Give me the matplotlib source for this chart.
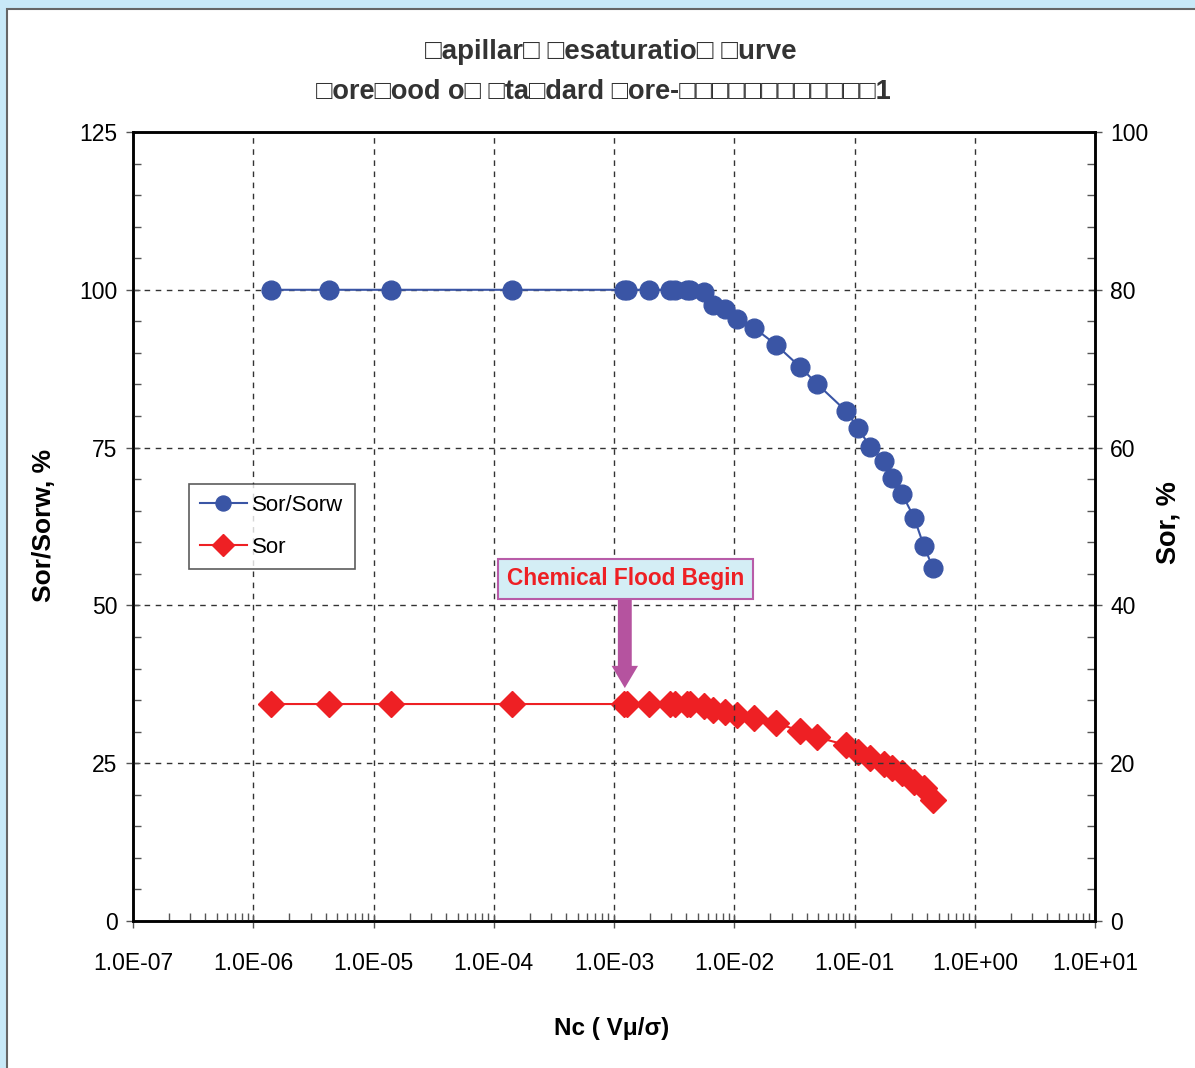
import matplotlib
matplotlib.use("Agg")
import matplotlib.pyplot as plt
from matplotlib.patches import Rectangle
from matplotlib.ticker import LogLocator, MultipleLocator, FixedLocator, NullFormatter

plt.rcParams['font.family'] = ['Liberation Sans', 'DejaVu Sans']

# ---- data ----
nc = [1.4e-6, 4.3e-6, 1.4e-5, 1.42e-4, 1.21e-3, 1.28e-3, 1.95e-3, 2.92e-3,
      3.2e-3, 4.05e-3, 4.3e-3, 5.6e-3, 6.65e-3, 8.4e-3, 1.05e-2, 1.46e-2,
      2.22e-2, 3.52e-2, 4.88e-2, 8.5e-2, 0.107, 0.135, 0.176, 0.205, 0.248,
      0.313, 0.378, 0.45]
sor_sorw = [100, 100, 100, 100, 100, 100, 100, 100, 100, 100, 99.9, 99.6,
            97.6, 97.0, 95.4, 94.0, 91.3, 87.8, 85.1, 80.8, 78.1, 75.1, 72.9,
            70.2, 67.7, 63.9, 59.4, 55.9]
sor = [27.5, 27.5, 27.5, 27.5, 27.5, 27.5, 27.5, 27.5, 27.5, 27.5, 27.5, 27.3,
       26.7, 26.5, 26.1, 25.7, 25.1, 24.1, 23.3, 22.3, 21.4, 20.6, 19.9, 19.4,
       18.7, 17.6, 16.8, 15.3]
x_ticks = [1e-7, 1e-6, 1e-5, 1e-4, 1e-3, 1e-2, 1e-1, 1e0, 1e1]
x_labels = ["1.0E-07", "1.0E-06", "1.0E-05", "1.0E-04", "1.0E-03",
            "1.0E-02", "1.0E-01", "1.0E+00", "1.0E+01"]
title1 = "\u25a1apillar\u25a1 \u25a1esaturatio\u25a1 \u25a1urve"
title2 = "\u25a1ore\u25a1ood o\u25a1 \u25a1ta\u25a1dard \u25a1ore-\u25a1\u25a1\u25a1\u25a1\u25a1\u25a1\u25a1\u25a1\u25a1\u25a1\u25a1\u25a11"

BLUE = '#3a55a5'
RED = '#ee2024'

W, H = 1195, 1068
fig = plt.figure(figsize=(W / 100, H / 100), dpi=100)
fig.patch.set_facecolor('#c8e9f8')
fig.patches.append(Rectangle((7 / W, -0.05), 1.1, 1.05 - 9 / H,
                             transform=fig.transFigure, facecolor='white',
                             edgecolor='#666666', lw=1.5, zorder=-5))

L, R, T, B = 133, 1095, 132, 921
ax = fig.add_axes([L / W, 1 - B / H, (R - L) / W, (B - T) / H])
ax.set_xscale('log')
ax.set_xlim(1e-7, 1e1)
ax.set_ylim(0, 125)

ax.xaxis.set_major_locator(FixedLocator(x_ticks))
ax.set_xticklabels(x_labels)
ax.xaxis.set_minor_locator(LogLocator(base=10, subs=range(2, 10), numticks=20))
ax.xaxis.set_minor_formatter(NullFormatter())
ax.yaxis.set_major_locator(MultipleLocator(25))
ax.yaxis.set_minor_locator(MultipleLocator(5))

ax.tick_params(axis='both', which='major', direction='inout', length=10,
               width=1, colors='#555555', labelcolor='black', labelsize=16.5)
ax.tick_params(axis='both', which='minor', direction='in', length=6,
               width=1, colors='#555555')
ax.tick_params(axis='x', which='major', pad=17)
ax.tick_params(axis='y', which='major', pad=6)
for s in ax.spines.values():
    s.set_linewidth(1.8)
    s.set_color('black')

ax.grid(True, which='major', linestyle=(0, (4, 4)), color='#333333', lw=1)

ax2 = ax.twinx()
ax2.set_ylim(0, 100)
ax2.yaxis.set_major_locator(MultipleLocator(20))
ax2.yaxis.set_minor_locator(MultipleLocator(4))
ax2.tick_params(axis='y', which='major', direction='inout', length=10,
                width=1, colors='#555555', labelcolor='black', labelsize=16.5, pad=6)
ax2.tick_params(axis='y', which='minor', direction='in', length=6,
                width=1, colors='#555555')
for s in ax2.spines.values():
    s.set_linewidth(1.8)

l1, = ax.plot(nc, sor_sorw, color=BLUE, lw=1.5, marker='o', ms=13.5,
              markerfacecolor=BLUE, markeredgecolor=BLUE, label='Sor/Sorw',
              zorder=5)
l2, = ax2.plot(nc, sor, color=RED, lw=1.5, marker='D', ms=13.5,
               markerfacecolor=RED, markeredgecolor=RED, label='Sor', zorder=5)

ax.set_zorder(ax2.get_zorder() + 1)
ax.patch.set_visible(False)
ax2.patch.set_visible(True)
ax2.patch.set_facecolor('white')

leg = ax.legend(handles=[l1, l2], loc='upper left',
                bbox_to_anchor=((189 - L) / (R - L), (B - 484) / (B - T)),
                fontsize=16, frameon=True, fancybox=False, edgecolor='#333333',
                borderpad=0.5, handlelength=2.1, handletextpad=0.25,
                labelspacing=0.95, borderaxespad=0, markerscale=0.8)
leg.get_frame().set_linewidth(1.2)
leg.set_zorder(20)

# annotation
ax.annotate('', xy=(1.23e-3, 36.9), xytext=(1.23e-3, 51.0),
            arrowprops=dict(arrowstyle='simple,head_width=1.9,head_length=1.6,tail_width=1.0',
                            color='#b5539f', lw=0, shrinkA=0, shrinkB=0), zorder=15)
ax.text(1.25e-3, 54.2, 'Chemical Flood Begin', color=RED, fontsize=16.3,
        fontweight='bold', ha='center', va='center', zorder=16,
        bbox=dict(boxstyle='square,pad=0.38', facecolor='#d4eef5',
                  edgecolor='#b85ca8', lw=1.5))

fig.text(611 / W, 1 - 52 / H, title1, ha='center', va='center', fontsize=20,
         fontweight='bold', color='#333333')
fig.text(603 / W, 1 - 92 / H, title2, ha='center', va='center', fontsize=19.5,
         fontweight='bold', color='#333333')
fig.text(44 / W, 1 - 525 / H, 'Sor/Sorw, %', rotation=90, ha='center',
         va='center', fontsize=19, fontweight='bold')
fig.text(1169 / W, 1 - 523 / H, 'Sor, %', rotation=90, ha='center',
         va='center', fontsize=19.5, fontweight='bold')
fig.text(612 / W, 1 - 1028 / H, 'Nc ( V\u03bc/\u03c3)', ha='center',
         va='center', fontsize=17.5, fontweight='bold')

fig.savefig('out.png', dpi=100, facecolor=fig.get_facecolor())
